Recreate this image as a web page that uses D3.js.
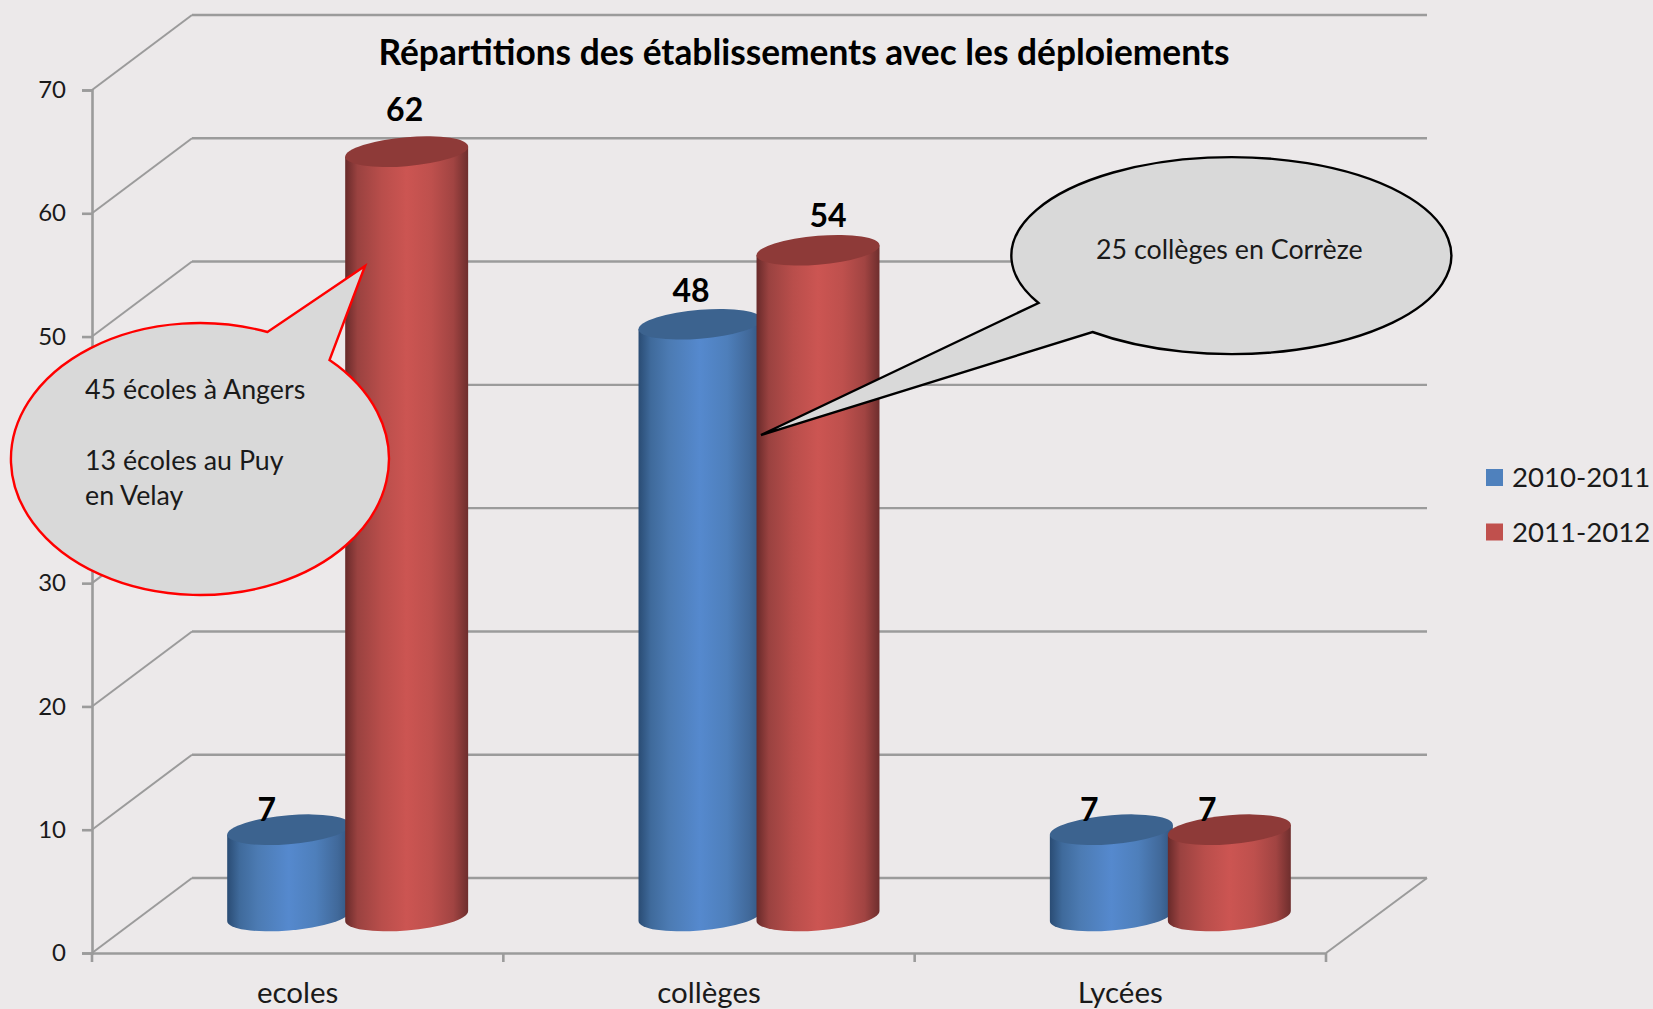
<!DOCTYPE html>
<html>
<head>
<meta charset="utf-8">
<script src="https://cdn.jsdelivr.net/npm/d3@7/dist/d3.min.js"></script>
<style>
	html, body { margin: 0; padding: 0; background: #ece9ea; overflow: hidden; }
	text { font-family: Lato, "Open Sans", sans-serif; fill: #1a1a1a; }
</style>
</head>
<body>
<div id="dataviz"></div>
<script>
// data
var categories = ["ecoles", "collèges", "Lycées"];
var series = ["2010-2011", "2011-2012"];
var values_2010 = [7, 48, 7];
var values_2011 = [62, 54, 7];
var y_ticks = [0, 10, 20, 30, 40, 50, 60, 70];

var title = "Répartitions des établissements avec les déploiements";
var note_red = ["45 écoles à Angers", "", "13 écoles au Puy", "en Velay"];
var note_black = ["25 collèges en Corrèze"];

var width = 1653;
var height = 1009;

// 3d box of the chart
var depth_x = 100;
var depth_y = 75;

var x0 = d3.scaleBand().domain(categories).range([92, 1326]);
var x1 = d3.scaleBand().domain(series).range([-118, 118]);
var y = d3.scaleLinear().domain([0, 70]).range([953, 90]);

var colors = {"2010-2011": "#4f81bd", "2011-2012": "#c0504d"};
var tops = {"2010-2011": "#3c638f", "2011-2012": "#8e3a38"};

var svg = d3.select("#dataviz").append("svg")
	.attr("width", width)
	.attr("height", height)
	.style("display", "block");

// gradients for the cylinders
var defs = svg.append("defs");
function add_gradient(id, stops) {
	var g = defs.append("linearGradient").attr("id", id);
	stops.forEach(function(s) {
		g.append("stop").attr("offset", s[0]).attr("stop-color", s[1]);
	});
}
add_gradient("grad_2010-2011", [[0, "#2a4c74"], [0.1, "#3f6a9b"], [0.25, "#4c7bb3"], [0.5, "#5589ce"], [0.72, "#4e7fbb"], [0.9, "#41699a"], [1, "#315580"]]);
add_gradient("grad_2011-2012", [[0, "#682a2a"], [0.1, "#9a4240"], [0.3, "#b94e4b"], [0.5, "#cc5552"], [0.7, "#be504d"], [0.88, "#a14442"], [1, "#6e2e2d"]]);

// back wall and side wall lines
var grid = svg.append("g")
	.attr("fill", "none")
	.attr("stroke", "#9b9b9b");

grid.selectAll(".back")
	.data(y_ticks)
	.enter()
	.append("line")
	.attr("class", "back")
	.attr("x1", 92 + depth_x)
	.attr("x2", 1327 + depth_x)
	.attr("y1", function(d) { return y(d) - depth_y; })
	.attr("y2", function(d) { return y(d) - depth_y; })
	.attr("stroke-width", 2.4);

grid.selectAll(".side")
	.data(y_ticks)
	.enter()
	.append("line")
	.attr("class", "side")
	.attr("x1", 92)
	.attr("x2", 92 + depth_x)
	.attr("y1", function(d) { return y(d); })
	.attr("y2", function(d) { return y(d) - depth_y; })
	.attr("stroke-width", 2);

// floor, right edge
grid.append("line")
	.attr("x1", 1326)
	.attr("x2", 1327 + depth_x)
	.attr("y1", y(0))
	.attr("y2", y(0) - depth_y)
	.attr("stroke-width", 2);

// axes
var y_axis = svg.append("g")
	.attr("transform", "translate(92,0)")
	.call(d3.axisLeft(y).tickValues(y_ticks).tickSize(10).tickPadding(16));

var x_axis = svg.append("g")
	.attr("transform", "translate(0," + y(0) + ")")
	.call(d3.axisBottom(x0).tickSize(0).tickPadding(29));

x_axis.selectAll(".edge")
	.data(d3.range(categories.length + 1))
	.enter()
	.append("line")
	.attr("class", "edge")
	.attr("x1", function(d) { return x0.range()[0] + d * x0.bandwidth(); })
	.attr("x2", function(d) { return x0.range()[0] + d * x0.bandwidth(); })
	.attr("y1", 0)
	.attr("y2", 9);

[y_axis, x_axis].forEach(function(axis) {
	axis.selectAll("path, line").attr("stroke", "#9b9b9b").attr("stroke-width", 2.6);
	axis.selectAll("text")
		.style("font-family", "Lato")
		.style("font-size", "24px")
		.attr("fill", "#262626");
});
x_axis.selectAll("text").style("font-size", "29.5px").attr("dy", "0.71em");

// cylinders
var bars = [];
series.forEach(function(s, i) {
	var vals = i == 0 ? values_2010 : values_2011;
	categories.forEach(function(c, j) {
		bars.push({category: c, serie: s, value: vals[j]});
	});
});

var radius = x1.bandwidth() * 1.042 / 2;
var flat = 14.5;
var slope = -5 / radius;

var node = svg.selectAll(".node")
	.data(bars)
	.enter()
	.append("g")
	.attr("class", "node")
	.attr("transform", function(d) {
		var cx = x0(d.category) + x0.bandwidth() / 2 + depth_x / 2 + x1(d.serie) + x1.bandwidth() / 2;
		return "matrix(1," + slope + ",0,1," + cx + "," + (y(0) - 37) + ")";
	});

node.append("path")
	.attr("d", function(d) {
		var h = y(0) - y(d.value);
		return "M" + (-radius) + "," + (-h) + "L" + (-radius) + ",0"
			+ "A" + radius + "," + flat + " 0 0 0 " + radius + ",0"
			+ "L" + radius + "," + (-h) + "Z";
	})
	.style("fill", function(d) { return "url(#grad_" + d.serie + ")"; });

node.append("ellipse")
	.attr("cy", function(d) { return y(d.value) - y(0); })
	.attr("rx", radius)
	.attr("ry", flat)
	.style("fill", function(d) { return tops[d.serie]; });

// value labels, each one was moved by hand in the original
var label_dx = {"2010-2011": [-22, -9, -22], "2011-2012": [-2, 10, -22]};
var label_dy = {"2010-2011": [-9, -22, -9], "2011-2012": [-31, -23, -9]};

svg.selectAll(".label")
	.data(bars)
	.enter()
	.append("text")
	.attr("class", "label")
	.attr("x", function(d) {
		var j = categories.indexOf(d.category);
		return x0(d.category) + x0.bandwidth() / 2 + depth_x / 2 + x1(d.serie) + x1.bandwidth() / 2 + label_dx[d.serie][j];
	})
	.attr("y", function(d) {
		var j = categories.indexOf(d.category);
		return y(d.value) - 37 + label_dy[d.serie][j];
	})
	.attr("text-anchor", "middle")
	.style("font-size", "32px")
	.style("font-weight", "bold")
	.style("fill", "#000")
	.text(function(d) { return d.value; });

// title
svg.append("text")
	.attr("x", 804)
	.attr("y", 64.5)
	.attr("text-anchor", "middle")
	.style("font-size", "35.3px")
	.style("font-weight", "bold")
	.style("fill", "#000")
	.text(title);

// legend
var legend = svg.selectAll(".legend")
	.data(series)
	.enter()
	.append("g")
	.attr("class", "legend")
	.attr("transform", function(d, i) { return "translate(1486," + (469 + i * 54.5) + ")"; });

legend.append("rect")
	.attr("width", 17)
	.attr("height", 17)
	.style("fill", function(d) { return colors[d]; });

legend.append("text")
	.attr("x", 26)
	.attr("y", 18)
	.style("font-size", "27.6px")
	.text(function(d) { return d; });

// speech bubbles
svg.append("path")
	.attr("d", "M365,266L267.5,332A189,136 0 1 0 329.5,360Z")
	.style("fill", "#d9d9d9")
	.style("stroke", "#ff0000")
	.style("stroke-width", 2.4);

svg.append("path")
	.attr("d", "M761,435L1038.5,303A220,98.5 0 1 1 1092.5,332Z")
	.style("fill", "#d9d9d9")
	.style("stroke", "#000")
	.style("stroke-width", 2.4);

svg.selectAll(".note_red")
	.data(note_red)
	.enter()
	.append("text")
	.attr("class", "note_red")
	.attr("x", 85)
	.attr("y", function(d, i) { return 399 + i * 35.3; })
	.style("font-size", "26.8px")
	.text(function(d) { return d; });

svg.selectAll(".note_black")
	.data(note_black)
	.enter()
	.append("text")
	.attr("class", "note_black")
	.attr("x", 1096)
	.attr("y", 258.5)
	.style("font-size", "26.8px")
	.text(function(d) { return d; });
</script>
</body>
</html>
